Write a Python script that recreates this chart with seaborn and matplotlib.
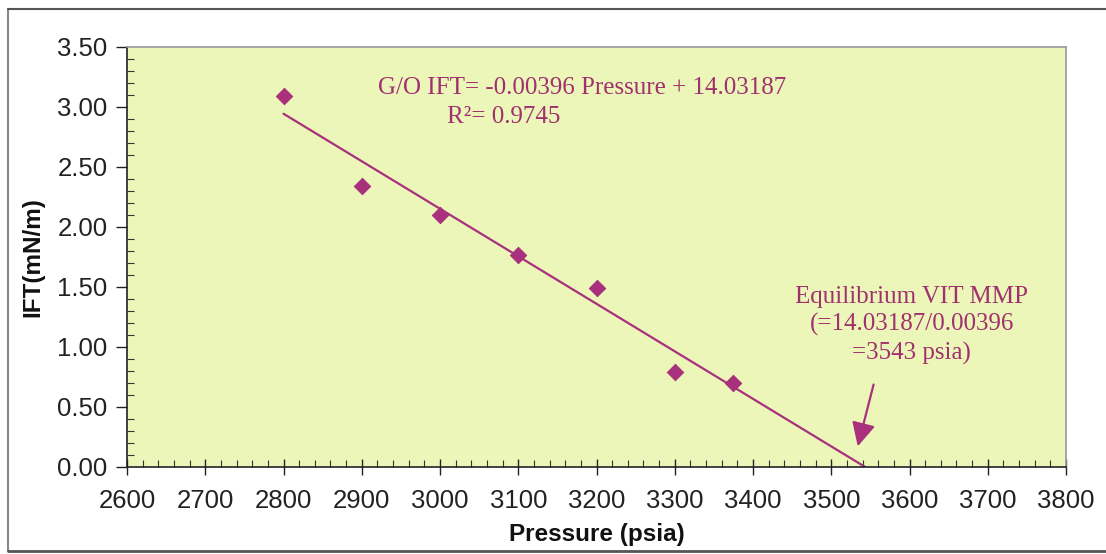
import matplotlib
matplotlib.use("Agg")
import matplotlib.pyplot as plt
from matplotlib.ticker import MultipleLocator, FormatStrFormatter
from matplotlib.lines import Line2D
import numpy as np
import pandas as pd
import seaborn as sns

# ---- data ----
pressure = [2800, 2900, 3000, 3100, 3200, 3300, 3375]
ift = [3.09, 2.34, 2.10, 1.77, 1.49, 0.79, 0.70]
slope = -0.00396
intercept = 14.03187
mmp = 3543
fit_label = "G/O IFT= -0.00396 Pressure + 14.03187"
r2_label = "R²= 0.9745"
mmp_label = "Equilibrium VIT MMP\n(=14.03187/0.00396\n=3543 psia)"
x_ticks = list(range(2600, 3801, 100))
y_ticks = [0.0, 0.5, 1.0, 1.5, 2.0, 2.5, 3.0, 3.5]

sns.set_theme(style="white")
plt.rcParams['font.family'] = ['Liberation Sans', 'DejaVu Sans']

magenta = "#a8307c"
text_col = "#a0306e"
bg = "#ecf6b8"

fig = plt.figure(figsize=(11.06, 5.54), dpi=100)
ax = fig.add_axes([127/1106, (554-467)/554, (1066-127)/1106, (467-47)/554])
ax.set_facecolor(bg)

df = pd.DataFrame({"Pressure": pressure, "IFT": ift})
sns.scatterplot(data=df, x="Pressure", y="IFT", ax=ax, marker="D", s=70,
                color=magenta, edgecolor=magenta, zorder=3)

x_end = -intercept / slope
line_x = np.array([pressure[0], x_end])
line_df = pd.DataFrame({"x": line_x, "y": slope * line_x + intercept})
sns.lineplot(data=line_df, x="x", y="y", ax=ax, color=magenta, linewidth=1.6, zorder=2)

ax.set_xlim(2600, 3800)
ax.set_ylim(0, 3.5)
ax.set_xticks(x_ticks)
ax.set_yticks(y_ticks)
ax.yaxis.set_major_formatter(FormatStrFormatter("%.2f"))
ax.xaxis.set_minor_locator(MultipleLocator(20))
ax.yaxis.set_minor_locator(MultipleLocator(0.1))
ax.tick_params(axis="both", which="major", labelsize=18.5, colors="#222222", length=8, width=1)
ax.tick_params(axis="x", which="major", direction="inout", length=12, pad=10)
ax.tick_params(axis="y", which="major", direction="out", pad=6)
ax.tick_params(axis="both", which="minor", direction="in", length=5, width=0.8, color="#333333")
ax.tick_params(axis="both", which="both", bottom=True, left=True, top=False, right=False)

ax.set_xlabel("Pressure (psia)", fontsize=17.5, fontweight="bold", labelpad=7, color="#111111")
ax.set_ylabel("IFT(mN/m)", fontsize=17.5, fontweight="bold", labelpad=9, color="#111111")

for s in ["left", "bottom"]:
    ax.spines[s].set_color("#222222")
    ax.spines[s].set_linewidth(1.2)
for s in ["top", "right"]:
    ax.spines[s].set_color("#9a9a9a")
    ax.spines[s].set_linewidth(1.2)

serif = ['Liberation Serif', 'DejaVu Serif']
ax.text(2921, 3.16, fit_label, fontsize=18, color=text_col, family=serif, va="center", ha="left")
ax.text(3009, 2.92, r2_label, fontsize=18, color=text_col, family=serif, va="center", ha="left")
ax.text(3603, 1.18, mmp_label, fontsize=18, color=text_col, family=serif, va="center",
        ha="center", linespacing=1.3)
ax.annotate("", xy=(3533, 0.15), xytext=(3555, 0.71),
            arrowprops=dict(arrowstyle="-|>,head_length=0.6,head_width=0.3", color=magenta,
                            lw=1.6, mutation_scale=24))

# outer frame
fig.add_artist(Line2D([8/1106, 8/1106], [1-9/554, 1-551/554], transform=fig.transFigure, color="#888888", lw=1.5))
fig.add_artist(Line2D([8/1106, 1.0], [1-9/554, 1-9/554], transform=fig.transFigure, color="#555555", lw=1.5))
fig.add_artist(Line2D([8/1106, 1.0], [1-551/554, 1-551/554], transform=fig.transFigure, color="#555555", lw=2))

fig.savefig("out.png", dpi=100)
